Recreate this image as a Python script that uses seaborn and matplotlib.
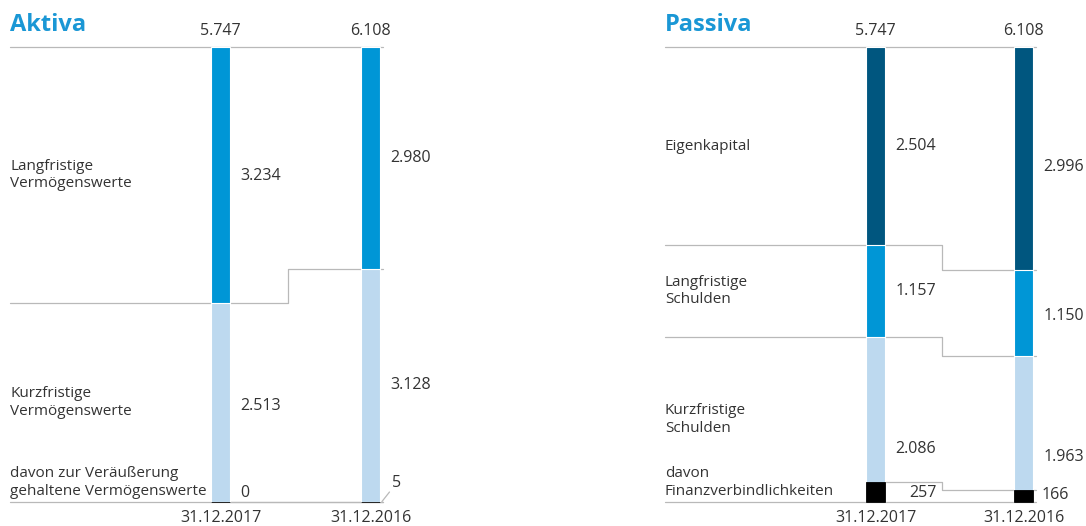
import matplotlib
matplotlib.use("Agg")
import numpy as np
import pandas as pd
import matplotlib.pyplot as plt
import seaborn as sns

# Werte in Mio. EUR
dates = ["31.12.2017", "31.12.2016"]

aktiva_total = [5747, 6108]
aktiva_lang = [3234, 2980]
aktiva_kurz = [2513, 3128]
aktiva_davon = [0, 5]

passiva_total = [5747, 6108]
passiva_eigen = [2504, 2996]
passiva_lang = [1157, 1150]
passiva_kurz = [2086, 1963]
passiva_davon = [257, 166]

DARK = "#00567f"
MID = "#0096d6"
LIGHT = "#bdd9ef"
GREY = "#b9b9b9"
TXT = "#333333"
TITLE = "#1a97d5"

sns.set_theme(style="white")
plt.rcParams["font.family"] = ["Open Sans", "DejaVu Sans"]

W, H = 1086, 526
TOP, BASE = 47, 502
PX = 100 / (BASE - TOP)  # prozent pro pixel

fig = plt.figure(figsize=(W / 100, H / 100), dpi=100)


def fmt(v):
    return f"{v:,}".replace(",", ".")


def panel(x0, x1, c0, step, line_start, line_end):
    ax = fig.add_axes([x0 / W, 0, (x1 - x0) / W, 1])
    lim = ((x0 - c0) / step, (x1 - c0) / step)
    xs = (line_start - c0) / step
    xe = (line_end - c0) / step
    return ax, lim, xs, xe, step


def draw(ax, lim, xs, xe, step, title, segs, davon, total, val_off, davon_lbl):
    bw = 19 / step
    total = np.array(total, dtype=float)
    pct = [np.array(v) / total * 100 for _, v, _ in segs]
    dpct = np.array(davon) / total * 100

    # gestapelt: kumulierte Balken von oben nach unten übereinander
    for k, (name, vals, color) in enumerate(segs):
        cum = np.sum(pct[k:], axis=0)
        df = pd.DataFrame({"date": dates, "v": cum})
        sns.barplot(data=df, x="date", y="v", order=dates, color=color,
                    width=bw, edgecolor="white", linewidth=0.8,
                    saturation=1, ax=ax, zorder=2)
    df = pd.DataFrame({"date": dates, "v": dpct})
    sns.barplot(data=df, x="date", y="v", order=dates, color="black",
                width=bw, edgecolor="black", linewidth=0.6,
                saturation=1, ax=ax, zorder=3)

    mid = 0.45
    lkw = dict(color=GREY, lw=0.9, zorder=1)
    ax.plot([xs, xe], [100, 100], **lkw)
    ax.plot([xs, xe], [0, 0], **lkw)
    for k in range(1, len(segs)):
        b = np.sum(pct[k:], axis=0)
        ax.plot([xs, mid, mid, xe], [b[0], b[0], b[1], b[1]], **lkw)
    ax.plot([bw / 2, mid, mid, xe], [dpct[0], dpct[0], dpct[1], dpct[1]], **lkw)

    ax.text(xs, 100 + 22 * PX, title, color=TITLE, fontsize=17,
            fontweight="bold", ha="left", va="center")
    for i in range(2):
        ax.text(i, 100 + 16 * PX, fmt(int(total[i])), color=TXT,
                fontsize=11.5, ha="center", va="center")
        ax.text(i, -16 * PX, dates[i], color=TXT, fontsize=11.5,
                ha="center", va="center")

    for k, (name, vals, color) in enumerate(segs):
        top = np.sum(pct[k:], axis=0)
        bot = np.sum(pct[k + 1:], axis=0) if k + 1 < len(segs) else np.zeros(2)
        cen = (top + bot) / 2
        ax.text(xs, cen[0], name, color=TXT, fontsize=11, ha="left",
                va="center", linespacing=1.25)
        for i in range(2):
            ax.text(i + 20 / step, cen[i] - val_off[i][k] * PX, fmt(vals[i]),
                    color=TXT, fontsize=11.5, ha="left", va="center")

    name, lbls = davon_lbl
    ax.text(xs, 3 * PX, name, color=TXT, fontsize=11, ha="left",
            va="bottom", linespacing=1.25)
    for i, (dx, dy, ha) in enumerate(lbls):
        ax.text(i + dx / step, dy * PX, fmt(davon[i]), color=TXT,
                fontsize=11.5, ha=ha, va="center")

    ax.set_xlim(*lim)
    ax.set_ylim(-(H - BASE) * PX, 100 + TOP * PX)
    ax.axis("off")


# Aktiva
ax, lim, xs, xe, st = panel(0, 430, 220.5, 150, 10, 383)
draw(ax, lim, xs, xe, st, "Aktiva",
     [("Langfristige\nVermögenswerte", aktiva_lang, MID),
      ("Kurzfristige\nVermögenswerte", aktiva_kurz, LIGHT)],
     aktiva_davon, aktiva_total,
     [[1, 3], [0, 0]],
     ("davon zur Veräußerung\ngehaltene Vermögenswerte",
      [(20, 9, "left"), (21, 19, "left")]))
ax.plot([1 + 11.5 / st, 1 + 19 / st], [0.5 * PX, 10 * PX],
        color=GREY, lw=0.9)

# Passiva
ax, lim, xs, xe, st = panel(650, 1086, 875.5, 148, 665, 1036)
draw(ax, lim, xs, xe, st, "Passiva",
     [("Eigenkapital", passiva_eigen, DARK),
      ("Langfristige\nSchulden", passiva_lang, MID),
      ("Kurzfristige\nSchulden", passiva_kurz, LIGHT)],
     passiva_davon, passiva_total,
     [[0, 0, 30], [8, 3, 28]],
     ("davon\nFinanzverbindlichkeiten",
      [(47, 9, "center"), (18, 7, "left")]))

fig.savefig("out.png", dpi=100)
